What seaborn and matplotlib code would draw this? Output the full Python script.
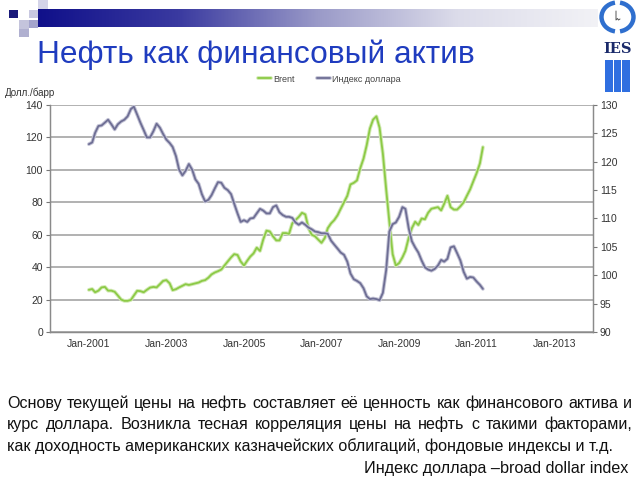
import pandas as pd
import numpy as np
import matplotlib
matplotlib.use('Agg')
import matplotlib.pyplot as plt
import matplotlib.patheffects as pe
from matplotlib.patches import Rectangle, Arc
from matplotlib.colors import LinearSegmentedColormap
import seaborn as sns

# monthly data, Jan-2001 .. Mar-2011
brent = [26, 26.5, 24.5, 25.5, 27.5, 27.8, 25.5, 25.5, 24.8, 22.5, 20, 19.2,
         19.2, 19.8, 22.5, 25.4, 25.2, 24.5, 26, 27.4, 27.8, 27.5, 29.5, 31.5,
         32, 30, 25.8, 26.4, 27.5, 28.5, 29.5, 29, 29.5, 30, 30.5, 31.5,
         32, 33.5, 35.5, 36.7, 37.5, 38.5, 41, 43.5, 46, 48, 47.5, 43.5,
         41, 44, 46.5, 48.5, 52, 50, 57, 62.5, 62, 59, 56.5, 56.5,
         61, 61, 60.5, 67, 69, 71, 73.5, 72.5, 64, 60, 59, 57,
         55, 58, 64, 67, 69, 72, 76, 80, 84, 91, 92, 93.5,
         101, 107, 115, 125.5, 131, 133, 126, 110, 88, 68, 48, 41,
         42.5, 46, 50, 58, 64, 68, 66, 70, 69.5, 73.5, 76, 76.5,
         77, 75, 79, 84, 77, 75.5, 75.5, 77.5, 80, 84, 88, 93,
         98, 104, 114]

dollar = [123.1, 123.4, 125.1, 126.3, 126.4, 126.9, 127.4, 126.6, 125.7, 126.6, 127.1, 127.4,
          128.0, 129.3, 129.7, 128.3, 126.9, 125.6, 124.3, 124.3, 125.4, 126.7, 126.0, 124.9,
          123.9, 123.3, 122.6, 121.0, 118.6, 117.6, 118.4, 119.6, 118.6, 116.9, 116.1, 114.3,
          113.0, 113.3, 114.1, 115.3, 116.4, 116.3, 115.4, 115.0, 114.3, 112.6, 110.9, 109.4,
          109.7, 109.4, 110.0, 110.1, 110.9, 111.7, 111.4, 110.9, 110.9, 112.0, 112.3, 111.1,
          110.6, 110.3, 110.3, 110.1, 109.3, 108.9, 109.3, 108.9, 108.4, 108.1, 107.7, 107.6,
          107.4, 107.4, 107.3, 106.1, 105.4, 104.7, 104.0, 103.6, 102.4, 100.3, 99.3, 99.0,
          98.6, 97.7, 96.3, 95.8, 95.9, 95.8, 95.6, 96.9, 100.9, 107.7, 109.0, 109.3,
          110.3, 112.0, 111.7, 108.3, 106.0, 104.9, 104.0, 102.6, 101.4, 101.0, 100.8, 101.1,
          101.7, 102.7, 102.4, 102.9, 104.9, 105.1, 103.9, 102.6, 100.6, 99.4, 99.7, 99.6,
          98.9, 98.3, 97.6]

xlabels = ['Jan-2001', 'Jan-2003', 'Jan-2005', 'Jan-2007', 'Jan-2009', 'Jan-2011', 'Jan-2013']
left_ticks = list(range(0, 141, 20))
right_ticks = list(range(90, 131, 5))

title = 'Нефть как финансовый актив'
body = ['Основу текущей цены на нефть составляет её ценность как финансового актива и',
        'курс доллара. Возникла тесная корреляция цены на нефть с такими факторами,',
        'как доходность американских казначейских облигаций, фондовые индексы и т.д.']
note = 'Индекс доллара –broad dollar index'

df = pd.DataFrame({'date': pd.date_range('2001-01-01', periods=len(brent), freq='MS'),
                   'brent': brent, 'dollar': dollar})

sns.set_theme(style='white')
plt.rcParams['font.family'] = ['Liberation Sans', 'DejaVu Sans']

W, H = 640, 480
fig = plt.figure(figsize=(6.4, 4.8), dpi=100)

GREEN, GREEN_H = '#8cca46', '#d2eab4'
BLUE, BLUE_H = '#6e6e94', '#c4c4d6'
TXT = '#333333'

ax = fig.add_axes([50 / W, 1 - 332 / H, 543 / W, 227 / H])
sns.lineplot(data=df, x='date', y='brent', ax=ax, color=GREEN, lw=1.3,
             path_effects=[pe.Stroke(linewidth=2.7, foreground=GREEN_H), pe.Normal()])
ax2 = ax.twinx()
sns.lineplot(data=df, x='date', y='dollar', ax=ax2, color=BLUE, lw=1.3,
             path_effects=[pe.Stroke(linewidth=2.7, foreground=BLUE_H), pe.Normal()])

ax.set_ylim(0, 140)
ax.set_yticks(left_ticks)
ax2.set_ylim(90, 130)
ax2.set_yticks(right_ticks)
ax.set_xlim(pd.Timestamp('2000-01-01'), pd.Timestamp('2014-01-01'))
ax.set_xticks(pd.to_datetime([f'{y}-01-01' for y in range(2000, 2015, 2)]))
ax.set_xticklabels([])
ax.set_xticks(pd.to_datetime([lab.replace('Jan-', '') + '-01-01' for lab in xlabels]), minor=True)
ax.set_xticklabels(xlabels, minor=True)
ax.tick_params(axis='x', which='major', length=4, width=0.8, color='#777777', direction='out')
ax.tick_params(axis='x', which='minor', length=0, pad=5, labelsize=7.5, labelcolor=TXT)
ax.tick_params(axis='y', length=3, width=0.8, color='#777777', direction='out',
               labelsize=7.5, labelcolor=TXT, pad=2)
ax2.tick_params(axis='y', length=3, width=0.8, color='#777777', direction='out',
                labelsize=7.5, labelcolor=TXT, pad=2)
ax.set_xlabel('')
ax.set_ylabel('')
ax2.set_ylabel('')
ax.grid(axis='y', color='#9c9c9c', lw=1.1)
ax.grid(axis='x', visible=False)
ax.set_axisbelow(True)
for a in (ax, ax2):
    a.spines['top'].set_visible(False)
    for s in ('left', 'right', 'bottom'):
        a.spines[s].set_color('#8a8a8a')
        a.spines[s].set_linewidth(0.9)

# legend
h1 = ax.get_lines()[0]
h2 = ax2.get_lines()[0]
fig.legend([h1, h2], ['Brent', 'Индекс доллара'], loc='center',
           bbox_to_anchor=(0.515, 1 - 79 / H), ncol=2, frameon=False, fontsize=6.5,
           handlelength=1.4, columnspacing=2.4, handletextpad=0.3, labelcolor='#444444')

fig.text(5 / W, 1 - 93 / H, 'Долл./барр', fontsize=7, color=TXT, va='center')

# header decoration
cmap = LinearSegmentedColormap.from_list('hdr', ['#10108a', '#3a3aa0', '#9a9ac8', '#dcdcea', '#f2f2f6'])
gax = fig.add_axes([38 / W, 1 - 27 / H, (598 - 38) / W, 18 / H])
gax.imshow(np.linspace(0, 1, 256)[None, :], aspect='auto', cmap=cmap)
gax.axis('off')
squares = [(9, 10, 9, 8, '#1a1a7a'), (29, 10, 9, 8, '#c8c8e0'), (38, 0, 10, 9, '#d4d4e8'),
           (19, 20, 10, 9, '#c4c4dc'), (29, 20, 9, 8, '#a4a4cc'), (19, 29, 10, 8, '#b0b0d0')]
for x, y, w, h, c in squares:
    fig.add_artist(Rectangle((x / W, 1 - (y + h) / H), w / W, h / H,
                             transform=fig.transFigure, color=c, lw=0))

fig.text(37 / W, 1 - 63 / H, title, fontsize=22.8, color='#1f3cbf', va='baseline')

# logo
lax = fig.add_axes([596 / W, 1 - 96 / H, 44 / W, 96 / H])
lax.set_xlim(0, 44)
lax.set_ylim(96, 0)
lax.axis('off')
lax.add_patch(Arc((21.5, 17), 32, 29, theta1=100, theta2=260, lw=3.2, color='#2f6fce'))
lax.add_patch(Arc((21.5, 17), 32, 29, theta1=-80, theta2=80, lw=3.2, color='#2f6fce'))
lax.plot([20, 20, 21.5, 22.5, 24], [11, 20, 18.5, 20, 19], color='#555555', lw=0.7)
lax.text(22, 49, 'IES', fontsize=10.5, fontweight='bold', family='DejaVu Serif',
         color='#1a2a6a', ha='center', va='center')
for bx in (9, 17.5, 26):
    lax.add_patch(Rectangle((bx, 60), 7.5, 32, color='#2f6fe0', lw=0))

# body text, justified
renderer = fig.canvas.get_renderer()
def justify(line, y, x0, x1, size):
    words = line.split()
    objs = [fig.text(0, 1 - y / H, wd, fontsize=size, color='#111111', va='baseline') for wd in words]
    widths = [o.get_window_extent(renderer).width for o in objs]
    gap = (x1 - x0 - sum(widths)) / (len(words) - 1)
    x = x0
    for o, wd in zip(objs, widths):
        o.set_x(x / W)
        x += wd + gap

fs = 11.6
justify(body[0], 408, 7, 632, fs)
justify(body[1], 429, 7, 632, fs)
fig.text(7 / W, 1 - 451 / H, body[2], fontsize=fs, color='#111111', va='baseline')
fig.text(628 / W, 1 - 473 / H, note, fontsize=fs, color='#111111', va='baseline', ha='right')

fig.savefig('out.png', dpi=100)
